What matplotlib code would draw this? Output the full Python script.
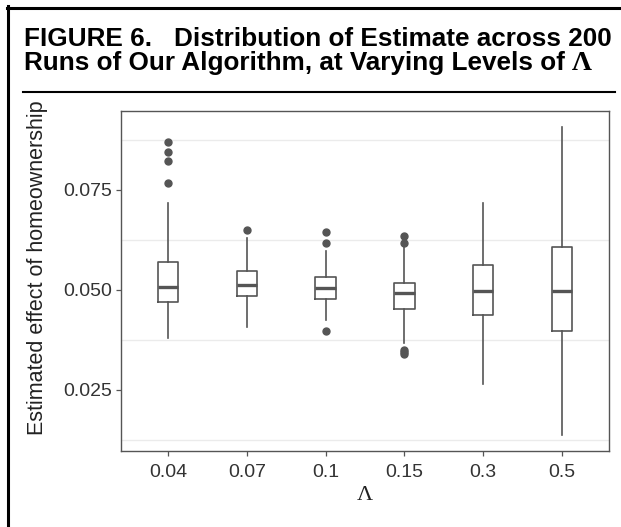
import matplotlib
matplotlib.use("Agg")
import matplotlib.pyplot as plt
from matplotlib.lines import Line2D

# values
levels = ["0.04", "0.07", "0.1", "0.15", "0.3", "0.5"]
whislo = [0.0379, 0.0408, 0.0425, 0.0367, 0.0264, 0.0136]
q1 = [0.0469, 0.0484, 0.0478, 0.0452, 0.0438, 0.0396]
med = [0.0508, 0.0513, 0.0505, 0.0492, 0.0498, 0.0496]
q3 = [0.0570, 0.0548, 0.0533, 0.0518, 0.0563, 0.0606]
whishi = [0.0717, 0.0630, 0.0598, 0.0608, 0.0718, 0.0908]
fliers = [
    [0.0869, 0.0844, 0.0821, 0.0768],
    [0.0650],
    [0.0644, 0.0618, 0.0398],
    [0.0635, 0.0618, 0.0350, 0.0345, 0.0340],
    [],
    [],
]
yticks = [0.025, 0.050, 0.075]
ygrid = [0.0125, 0.0375, 0.0625, 0.0875]

W, H = 621, 527
def px(x, y):
    return x / W, 1 - y / H

fig = plt.figure(figsize=(W / 100, H / 100), dpi=100)
ax = fig.add_axes([121 / W, 1 - 451 / H, (609 - 121) / W, (451 - 111) / H])

stats = []
for i in range(len(levels)):
    stats.append(dict(med=med[i], q1=q1[i], q3=q3[i], whislo=whislo[i],
                      whishi=whishi[i], fliers=fliers[i], label=levels[i]))

col = "#555555"
ax.bxp(stats, positions=range(1, 7), widths=0.26, showcaps=False,
       boxprops=dict(color=col, linewidth=1.2),
       whiskerprops=dict(color=col, linewidth=1.2),
       medianprops=dict(color=col, linewidth=2.4),
       flierprops=dict(marker="o", markerfacecolor=col, markeredgecolor=col,
                       markersize=5),
       zorder=3)

ax.set_xlim(0.4, 6.6)
ax.set_ylim(0.0097, 0.0947)
ax.set_yticks(yticks)
ax.set_yticklabels(["0.025", "0.050", "0.075"])
ax.set_yticks(ygrid, minor=True)
ax.yaxis.grid(True, which="minor", color="#ebebeb", linewidth=1.0)
ax.set_axisbelow(True)
ax.tick_params(which="minor", length=0)
ax.tick_params(which="major", length=3.5, width=0.9, color="#555555",
               labelsize=14, labelcolor="#333333")
ax.tick_params(axis="x", pad=6)
ax.tick_params(axis="y", pad=3)
for lab in ax.get_xticklabels() + ax.get_yticklabels():
    lab.set_family("Liberation Sans")
for s in ax.spines.values():
    s.set_color("#555555")
    s.set_linewidth(1.0)

fig.text(*px(38, 268), "Estimated effect of homeownership", rotation=90,
         ha="center", va="center", fontsize=15.5, family="Liberation Sans",
         color="#222222")
fig.text(*px(365, 495), "Λ", ha="center", va="center", fontsize=16,
         family="Liberation Serif", color="#222222")

# title block
tfont = dict(fontsize=18.8, family="Liberation Sans", weight="bold",
             va="baseline")
fig.text(*px(24, 46), "FIGURE 6.", ha="left", **tfont)
fig.text(*px(612, 46), "Distribution of Estimate across 200", ha="right", **tfont)
t2 = fig.text(*px(24, 70), "Runs of Our Algorithm, at Varying Levels of ",
              ha="left", **tfont)
fig.canvas.draw()
bb = t2.get_window_extent()
fig.text(bb.x1 / W, 1 - 70 / H, "Λ", fontsize=20, family="Liberation Serif",
         weight="bold", va="baseline", ha="left")

# frame and rule
fig.add_artist(Line2D([px(7.5, 0)[0]] * 2, [px(0, 6)[1], 0], color="black",
                      linewidth=2.2, transform=fig.transFigure))
fig.add_artist(Line2D([px(6.5, 0)[0], 1], [px(0, 7.5)[1]] * 2, color="black",
                      linewidth=2.2, transform=fig.transFigure))
fig.add_artist(Line2D([px(23, 0)[0], px(615, 0)[0]], [px(0, 92.3)[1]] * 2,
                      color="black", linewidth=1.5, transform=fig.transFigure))

fig.savefig("out.png", dpi=100)
